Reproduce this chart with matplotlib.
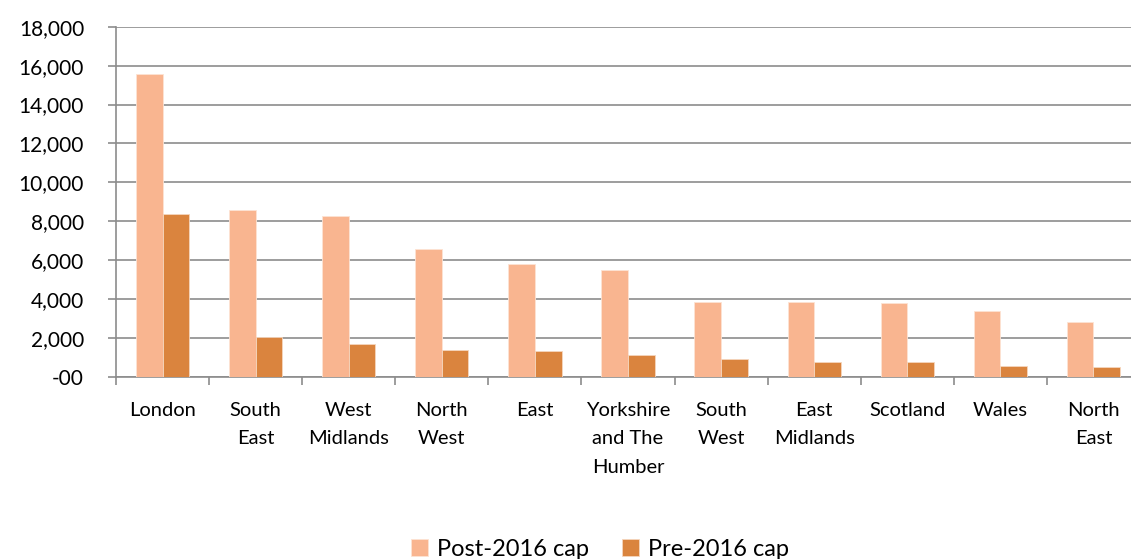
import numpy as np
import matplotlib.pyplot as plt

plt.rcParams['font.family'] = ['Lato', 'DejaVu Sans']

regions = ['London', 'South\nEast', 'West\nMidlands', 'North\nWest', 'East',
           'Yorkshire\nand The\nHumber', 'South\nWest', 'East\nMidlands',
           'Scotland', 'Wales', 'North\nEast']
post_cap = [15570, 8560, 8280, 6580, 5800, 5480, 3860, 3840, 3780, 3380, 2830]
pre_cap = [8400, 2060, 1700, 1390, 1320, 1150, 910, 770, 755, 585, 530]
y_ticks = [0, 2000, 4000, 6000, 8000, 10000, 12000, 14000, 16000, 18000]
y_labels = ['-00', '2,000', '4,000', '6,000', '8,000', '10,000', '12,000',
            '14,000', '16,000', '18,000']

W, H = 1131, 559
fig = plt.figure(figsize=(W / 100, H / 100), dpi=100)
ax = fig.add_axes([116 / W, 182 / H, (1140 - 116) / W, 350.3 / H])

x = np.arange(len(regions))
bw = 0.286
b1 = ax.bar(x - bw / 2, post_cap, bw, color='#F9B590', edgecolor='#FDE3D3',
            linewidth=0.6, label='Post-2016 cap', zorder=3)
b2 = ax.bar(x + bw / 2, pre_cap, bw, color='#DA843E', edgecolor='#F5D6BE',
            linewidth=0.6, label='Pre-2016 cap', zorder=3)

ax.set_xlim(-0.5, len(regions) - 0.5)
ax.set_ylim(0, 18000)
ax.set_yticks(y_ticks)
ax.set_yticklabels(y_labels, fontsize=15)
ax.yaxis.grid(True, color='#8C8C8C', linewidth=1.2, zorder=0)

# category ticks sit between the groups, labels at the centres
ax.set_xticks(np.arange(len(regions) + 1) - 0.5)
ax.set_xticklabels([])
ax.set_xticks(x, minor=True)
ax.set_xticklabels(regions, minor=True, fontsize=14.5, linespacing=1.82)
ax.tick_params(axis='x', which='minor', length=0, pad=18)
ax.tick_params(axis='x', which='major', length=6, width=1.2, color='#8C8C8C')
ax.tick_params(axis='y', length=6, width=1.2, color='#8C8C8C', pad=17)

for s in ['top', 'right']:
    ax.spines[s].set_visible(False)
for s in ['left', 'bottom']:
    ax.spines[s].set_color('#8C8C8C')
    ax.spines[s].set_linewidth(1.2)

fig.legend(handles=[b1, b2], loc='center', bbox_to_anchor=(600 / W, 1 - 549 / H),
           ncol=2, frameon=False, fontsize=17, handlelength=0.7,
           handleheight=0.7, handletextpad=0.4, columnspacing=1.4)

fig.savefig('out.png', dpi=100)
